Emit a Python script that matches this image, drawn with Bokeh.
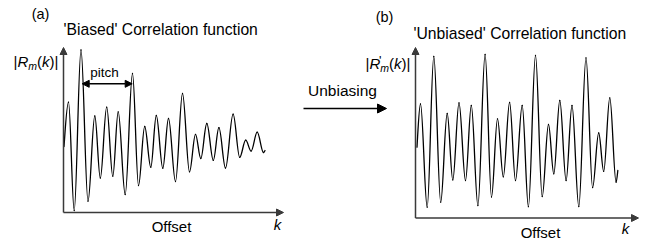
import numpy as np
from bokeh.plotting import figure
from bokeh.models import Range1d, Label, Arrow, NormalHead
from bokeh.layouts import row
from bokeh.embed import file_html
from bokeh.resources import INLINE

# ---- data: extrema of the correlation magnitude ----
# (a) 'Biased' correlation function: offset k and |R_m(k)|
biased_k = [0.5, 5, 10.7, 17.5, 24.5, 31.3, 36.8, 43.2, 49.3, 54.7,
            61.7, 69, 75, 81.2, 87.3, 92.8, 99.3, 105, 112, 119,
            126, 132, 137.3, 143.3, 149.8, 155.4, 162, 169.6, 176.2, 182.2,
            187.6, 193.7, 200, 201.5]
biased_R = [66, 110.3, 2, 162.5, 11.3, 96.5, 34.5, 105.3, 36.3, 100.7,
            18, 139, 27, 86, 45.3, 97, 44.3, 94, 31, 119,
            40.7, 78.2, 54, 89, 52.2, 84.8, 44.5, 98.3, 55.2, 72.3,
            61.4, 80.3, 60, 62]
# (b) 'Unbiased' correlation function: offset k and |R'_m(k)|
unbiased_k = [1.5, 5, 11.7, 18.3, 25.2, 31.7, 37.3, 43.5, 50, 55.8,
              62.4, 69.6, 76, 82, 87.8, 94.1, 100, 106.7, 112.9, 120,
              126.7, 133, 138.3, 144.3, 150.6, 156.5, 163.3, 170.5, 177.1, 183.2,
              188.2, 194.3, 200.6, 202.3]
unbiased_R = [70.8, 114, 10.8, 161.5, 15.8, 104.5, 38.1, 115.2, 37.5, 112.5,
              12.5, 163.5, 21, 99.2, 41.2, 115.5, 37.5, 112.5, 11.3, 162.5,
              21.5, 93.5, 44.2, 117.5, 37.5, 112.5, 11.5, 160.2, 30.5, 85,
              46.7, 120.2, 35.8, 47.5]
# pitch marker: between the 2nd and 6th peak of the biased curve
pitch_from, pitch_to = 18.7, 68.7

FONT = "Liberation Sans"
AX = "#3a3a3a"


def panel(width, xr, yr):
    p = figure(width=width, height=241, x_range=Range1d(*xr), y_range=Range1d(*yr),
               x_axis_type=None, y_axis_type=None, output_backend="svg",
               toolbar_location=None, min_border=0)
    p.grid.visible = False
    p.outline_line_color = None
    return p


def curve(p, ks, rs):
    k = np.asarray(ks, float)
    r = np.asarray(rs, float)
    x0, x1, y0, y1 = k[:-1], k[1:], r[:-1], r[1:]
    dx = x1 - x0
    c = 0.36
    cy0 = y0.copy()
    cy1 = y1.copy()
    cy0[0] = y0[0] + 0.5 * (y1[0] - y0[0])
    cy1[-1] = y1[-1] - 0.5 * (y1[-1] - y0[-1])
    p.bezier(x0=x0, y0=y0, x1=x1, y1=y1, cx0=x0 + c * dx, cy0=cy0,
             cx1=x1 - c * dx, cy1=cy1, line_color="black", line_width=1.3,
             line_cap="round")


def axes(p, ytop, xend):
    for xs, ys in (((0, 0), (0, ytop)), ((0, xend), (0, 0))):
        p.add_layout(Arrow(end=NormalHead(size=7, fill_color=AX, line_color=AX, line_width=1),
                           x_start=xs[0], x_end=xs[1], y_start=ys[0], y_end=ys[1],
                           line_color=AX, line_width=1.5))


def txt(p, x, y, s, size=15, style="normal", align="left"):
    p.add_layout(Label(x=x, y=y, text=s, text_font=FONT, text_font_size=f"{size}px",
                       text_font_style=style, text_align=align, text_baseline="middle",
                       text_color="black"))


def ylabel(p, y, prime=False):
    txt(p, -50, y, "|")
    txt(p, -46.1, y, "R", style="italic")
    if prime:
        txt(p, -36.5, y + 3, "'", size=13)
    txt(p, -35.3, y - 4, "m", size=10.5, style="italic")
    txt(p, -26.6, y, "(")
    txt(p, -21.6, y, "k", style="italic")
    txt(p, -14.1, y, ")|")


# ---- (a) panel ----
pa = panel(298, (-63, 235), (-29, 212))
axes(pa, 165, 220)
curve(pa, biased_k, biased_R)
pa.add_layout(Arrow(start=NormalHead(size=7, fill_color="black", line_color="black"),
                    end=NormalHead(size=7, fill_color="black", line_color="black"),
                    x_start=pitch_from, x_end=pitch_to, y_start=128.7, y_end=128.7,
                    line_color="black", line_width=1.5))
txt(pa, -23, 199, "(a)", size=14.5, align="center")
txt(pa, 0, 183, "'Biased' Correlation function", size=15.7)
ylabel(pa, 151)
txt(pa, 41, 140, "pitch", size=13.5, align="center")
txt(pa, 108, -14, "Offset", size=15, align="center")
txt(pa, 214, -12, "k", size=15, style="italic", align="center")

# ---- (b) panel ----
pb = panel(360, (-117, 243), (-23.5, 217.5))
axes(pb, 170.5, 223)
curve(pb, unbiased_k, unbiased_R)
txt(pb, -31, 201.5, "(b)", size=14.5, align="center")
txt(pb, -2, 184.5, "'Unbiased' Correlation function", size=15.7)
ylabel(pb, 154.5, prime=True)
txt(pb, 125, -14, "Offset", size=15, align="center")
txt(pb, 210, -10.5, "k", size=15, style="italic", align="center")
txt(pb, -73, 127.5, "Unbiasing", size=15.5, align="center")
pb.add_layout(Arrow(end=NormalHead(size=9, fill_color="black", line_color="black"),
                    x_start=-112, x_end=-29, y_start=109.5, y_end=109.5,
                    line_color="black", line_width=1.5))

layout = row(pa, pb)
open("out.html", "w").write(file_html(layout, INLINE))
